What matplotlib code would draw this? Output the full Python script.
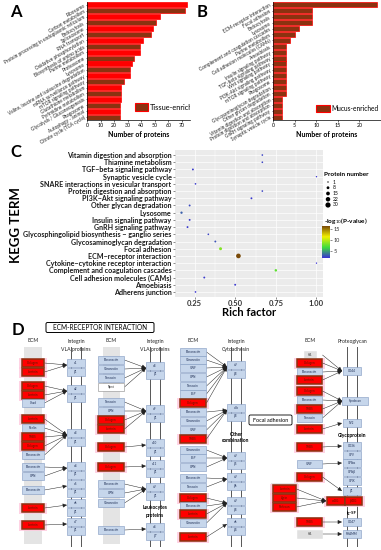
import numpy as np
import matplotlib
matplotlib.use("Agg")
import matplotlib.pyplot as plt
from matplotlib.patches import Rectangle, FancyBboxPatch
from matplotlib.colors import LinearSegmentedColormap, Normalize
from matplotlib.cm import ScalarMappable

plt.rcParams['font.family'] = ['Lato', 'DejaVu Sans']

# ---------------- data ----------------
# A: tissue-enriched KEGG pathways
a_terms = ["Ribosome", "Carbon metabolism", "Protein processing in endoplasmic reticulum",
           "Endocytosis", "Spliceosome", "RNA transport", "Oxidative phosphorylation",
           "Biosynthesis of amino acids", "Purine metabolism", "Proteasome", "Lysosome",
           "Valine, leucine and isoleucine degradation", "mRNA surveillance pathway",
           "mTOR signaling pathway", "Glutathione metabolism", "Pyrimidine metabolism",
           "Glycolysis / Gluconeogenesis", "Phagosome", "Autophagy - animal",
           "Citrate cycle (TCA cycle)"]
a_counts = [74, 72, 54, 51, 49, 47, 41, 39, 39, 35, 33, 32, 32, 27, 25, 25, 25, 24, 24, 24]

# B: mucus-enriched KEGG pathways
b_terms = ["ECM-receptor interaction", "Focal adhesion", "Endocytosis", "Lysosome",
           "Complement and coagulation cascades", "Purine metabolism",
           "Cell adhesion molecules (CAMs)", "Amoebiasis", "Insulin signaling pathway",
           "TGF-beta signaling pathway", "Wnt signaling pathway", "PI3K-Akt signaling pathway",
           "mTOR signaling pathway", "Phagosome", "Glycosaminoglycan degradation",
           "Other glycan degradation", "Vitamin digestion and absorption",
           "Protein digestion and absorption", "GnRH signaling pathway", "Synaptic vesicle cycle"]
b_counts = [24, 9, 9, 9, 6, 5, 4, 3, 3, 3, 3, 3, 3, 3, 3, 3, 2, 2, 2, 2]

# C: KEGG enrichment bubble plot
c_terms = ["Vitamin digestion and absorption", "Thiamine metabolism", "TGF\u2212beta signaling pathway",
           "Synaptic vesicle cycle", "SNARE interactions in vesicular transport",
           "Protein digestion and absorption", "PI3K\u2212Akt signaling pathway",
           "Other glycan degradation", "Lysosome", "Insulin signaling pathway",
           "GnRH signaling pathway", "Glycosphingolipid biosynthesis \u2212 ganglio series",
           "Glycosaminoglycan degradation", "Focal adhesion", "ECM\u2212receptor interaction",
           "Cytokine\u2212cytokine receptor interaction", "Complement and coagulation cascades",
           "Cell adhesion molecules (CAMs)", "Amoebiasis", "Adherens junction"]
c_rich = [0.667, 0.667, 0.24, 1.0, 0.256, 0.667, 0.60, 0.22, 0.17, 0.22,
          0.207, 0.335, 0.378, 0.41, 0.52, 1.0, 0.75, 0.31, 0.50, 0.256]
c_count = [2, 2, 3, 1, 2, 2, 3, 3, 5, 3, 3, 2, 3, 9, 24, 1, 6, 3, 3, 2]
c_logp = [2.2, 2.2, 2.0, 1.8, 2.0, 2.2, 1.9, 2.4, 3.0, 2.0, 2.0, 2.2, 2.6, 8.5, 16.5, 1.6, 7.5, 2.0, 1.9, 1.8]
size_breaks = [1, 8, 15, 22, 30]
logp_ticks = [5, 10, 15]

# D: ECM-receptor interaction diagram
ecm1_names = ["Collagen", "Laminin", "Collagen", "Laminin", "Chad", "Laminin", "Reelin", "THBS",
              "Collagen", "Fibronectin", "Fibronectin", "OPN", "Fibronectin", "Laminin", "Laminin"]
ecm1_kind = [1, 1, 1, 1, 0, 1, 0, 1, 1, 0, 0, 0, 0, 1, 1]
ecm1_to = [0, 0, 1, 1, 1, 2, 2, 2, 2, 2, 3, 3, 4, 5, 6]
int1_a = ["\u03b11", "\u03b12", "\u03b13", "\u03b14", "\u03b15", "\u03b16", "\u03b17"]
int1_b = ["\u03b21"] * 7

ecm2_names = ["Fibronectin", "Vitronectin", "Tenascin", "Npnt", "Tenascin", "OPN", "Collagen",
              "Laminin", "Collagen", "Collagen", "Fibronectin", "OPN", "Vitronectin", "Fibronectin"]
ecm2_kind = [0, 0, 0, 2, 0, 0, 1, 1, 1, 1, 0, 0, 0, 0]
ecm2_to = [0, 0, 0, 0, 1, 1, 1, 1, 2, 3, 4, 4, 4, 5]
int2_a = ["\u03b18", "\u03b19", "\u03b110", "\u03b111", "\u03b1V", "\u03b14"]
int2_b = ["\u03b21"] * 5 + ["\u03b27"]

ecm3_names = ["Fibronectin", "Vitronectin", "VWF", "OPN", "Tenascin", "BSP", "Collagen",
              "Fibronectin", "Vitronectin", "VWF", "THBS", "Vitronectin", "BSP", "OPN",
              "Fibronectin", "Tenascin", "Collagen", "Fibronectin", "Laminin", "Vitronectin", "Laminin"]
ecm3_kind = [0, 0, 0, 0, 0, 0, 1, 0, 0, 0, 1, 0, 0, 0, 0, 0, 1, 0, 1, 0, 1]
ecm3_to = [0, 0, 0, 0, 0, 0, 0, 1, 1, 1, 1, 2, 2, 2, 3, 3, 4, 4, 4, 4, 5]
int3_a = ["\u03b1V", "\u03b1IIb", "\u03b1V", "\u03b1V", "\u03b1V", "\u03b16"]
int3_b = ["\u03b23", "\u03b23", "\u03b25", "\u03b26", "\u03b28", "\u03b24"]

ecm4_names = ["HA", "Collagen", "Fibronectin", "Laminin", "Collagen", "Fibronectin", "THBS",
              "Tenascin", "Laminin", "THBS", "VWF", "Collagen", "THBS", "HA"]
ecm4_kind = [3, 1, 0, 1, 1, 0, 1, 0, 1, 1, 0, 1, 1, 3]
ecm4_to = [0, 0, 0, 0, 1, 1, 1, 1, 2, 3, 5, 8, 9, 10]
rec4_names = ["CD44", "Syndecan", "SV2", "CD36", "GPV", "GPIb\u03b1", "GPIb\u03b2", "GPIX",
              "\u03b21", "CD47", "RHAMM"]
dg_ligands = ["Laminin", "Agrin", "Perlecan"]
dg_names = ["\u03b1-DG", "\u03b2-DG"]

# layout of the diagram (pixel rows)
ecm1_y = [363, 372, 386, 395, 403, 419, 428, 437, 446, 455, 467, 476, 490, 508, 525]
int1_y = [363, 389, 433, 466, 484, 503, 522]
ecm2_y = [360, 369, 378, 387, 402, 411, 420, 429, 447, 467, 484, 493, 503, 530]
int2_y = [366, 409, 443, 464, 487, 527]
ecm3_y = [352, 360, 368, 377, 386, 394, 403, 412, 421, 430, 439, 450, 458, 467, 478, 487,
          498, 506, 514, 523, 537]
int3_y = [365, 408, 456, 477, 501, 522]
ecm4_y = [355, 363, 372, 380, 391, 400, 409, 418, 429, 447, 464, 477, 522, 534]
rec4_y = [371, 401, 423, 446, 455, 463, 472, 481, 491, 522, 534]
dg_lig_y = [489, 498, 507]

RED, BROWN = '#FF0000', '#8B3210'
W, H = 381, 550
fig = plt.figure(figsize=(W / 100, H / 100), dpi=100)


def px_axes(x0, y0, x1, y1):
    return fig.add_axes([x0 / W, 1 - y1 / H, (x1 - x0) / W, (y1 - y0) / H])


def bar_panel(ax, terms, counts, colors, xmax, xticks, legend_text, leg_x, leg_y, leg_fs):
    y = np.arange(len(terms))
    ax.barh(y, counts, height=0.85, color=colors, edgecolor=RED, linewidth=0.5)
    ax.set_ylim(len(terms) - 0.5, -0.5)
    ax.set_xlim(0, xmax)
    ax.set_yticks(y)
    ax.set_yticklabels(terms, rotation=30, ha='right', rotation_mode='anchor',
                       fontsize=3.4, color='#222222')
    ax.set_xticks(xticks)
    ax.tick_params(axis='x', labelsize=3.8, length=1.5, width=0.4, pad=1)
    ax.tick_params(axis='y', length=1, width=0.4, pad=1)
    for s in ['top', 'right']:
        ax.spines[s].set_visible(False)
    for s in ['left', 'bottom']:
        ax.spines[s].set_linewidth(0.5)
    ax.set_xlabel('Number of proteins', fontsize=5, fontweight='bold', labelpad=2)
    ax.add_patch(Rectangle((leg_x, leg_y - 0.03), 0.13, 0.06, transform=ax.transAxes,
                           facecolor=BROWN, edgecolor=RED, linewidth=0.8, clip_on=True))
    ax.text(leg_x + 0.145, leg_y, legend_text, transform=ax.transAxes, fontsize=leg_fs,
            va='center', ha='left', clip_on=True)


# ---- A ----
axA = px_axes(87, 2, 190, 120)
bar_panel(axA, a_terms, a_counts, [RED if i % 2 == 0 else BROWN for i in range(len(a_terms))],
          76, range(0, 71, 10), 'Tissue-enriched', 0.465, 0.11, 5.3)
fig.text(10 / W, 1 - 12 / H, 'A', fontsize=12, fontweight='bold', va='center')

# ---- B ----
axB = px_axes(273, 2, 381, 120)
bar_panel(axB, b_terms, b_counts, [BROWN] * len(b_terms), 25, [0, 5, 10, 15, 20],
          'Mucus-enriched', 0.40, 0.095, 4.8)
fig.text(197 / W, 1 - 12 / H, 'B', fontsize=12, fontweight='bold', va='center')

# ---- C ----
cmap = LinearSegmentedColormap.from_list('kegg', ['#3a2fd6', '#3ddc3d', '#f2f000', '#7a4a08'])
norm = Normalize(vmin=1.6, vmax=16.5)


def bubble(n):
    return 1.0 + (np.asarray(n, float) - 1) * 13.0 / 29.0


axC = px_axes(175, 150, 323, 297)
axC.set_facecolor('#EBEBEB')
yc = np.arange(len(c_terms))
axC.scatter(c_rich, yc, s=bubble(c_count), c=c_logp, cmap=cmap, norm=norm,
            edgecolors='none', zorder=3)
axC.set_xlim(0.13, 1.04)
axC.set_ylim(len(c_terms) - 0.3, -0.7)
axC.set_yticks(yc)
axC.set_yticklabels(c_terms, fontsize=5.1, fontweight='bold', color='#1a1a1a')
axC.set_xticks([0.25, 0.5, 0.75, 1.0])
axC.set_xticklabels(['0.25', '0.50', '0.75', '1.00'], fontsize=5.5, fontweight='bold',
                    color='#333333')
axC.set_xticks([0.375, 0.625, 0.875], minor=True)
axC.grid(which='major', color='white', linewidth=0.5)
axC.grid(which='minor', axis='x', color='white', linewidth=0.3)
axC.set_axisbelow(True)
axC.tick_params(which='major', length=1.5, width=0.4, pad=1, color='#333333')
axC.tick_params(which='minor', length=0)
for s in axC.spines.values():
    s.set_visible(False)
axC.set_xlabel('Rich factor', fontsize=8, fontweight='bold', labelpad=0)
fig.text(16 / W, 1 - 225 / H, 'KEGG TERM', fontsize=9.5, fontweight='bold',
         rotation=90, va='center', ha='center')
fig.text(10 / W, 1 - 152 / H, 'C', fontsize=12, fontweight='bold', va='center')

# size legend
axL = px_axes(322, 170, 381, 212)
axL.set_xlim(322, 381)
axL.set_ylim(212, 170)
axL.axis('off')
axL.text(324, 175, 'Protein number', fontsize=4.6, fontweight='bold', va='center')
leg_rows = np.linspace(182, 205, len(size_breaks))
axL.scatter([328] * len(size_breaks), leg_rows, s=bubble(size_breaks), color='black',
            edgecolors='none')
for yy, b in zip(leg_rows, size_breaks):
    axL.text(333, yy, str(b), fontsize=3.6, va='center')

fig.text(324 / W, 1 - 221 / H, '-log$_{10}$(P-value)', fontsize=4.6, fontweight='bold',
         va='center')
cax = px_axes(322, 226, 330, 258)
cb = fig.colorbar(ScalarMappable(norm=norm, cmap=cmap), cax=cax, ticks=logp_ticks)
cb.outline.set_visible(False)
cax.tick_params(labelsize=4, length=1.5, width=0.4, pad=1, colors='#333333')

# ---- D ----
axD = px_axes(0, 318, W, H)
axD.set_xlim(0, W)
axD.set_ylim(H, 318)
axD.axis('off')
fig.text(12 / W, 1 - 330 / H, 'D', fontsize=12, fontweight='bold', va='center')
axD.add_patch(FancyBboxPatch((46, 322.5), 108, 10, boxstyle='round,pad=0,rounding_size=1.5',
                             facecolor='white', edgecolor='black', linewidth=0.7))
axD.text(100, 327.8, 'ECM-RECEPTOR INTERACTION', fontsize=4.7, ha='center', va='center')

BLUE_F, BLUE_E = '#C6D6EB', '#8099C0'
BH = 8


def box(x0, w, yc, label, kind=0, fs=2.2):
    if kind == 1:
        axD.add_patch(Rectangle((x0 - 3, yc - BH / 2 - 1.5), w + 6, BH + 3, facecolor='#FFC9DE',
                                edgecolor='none', alpha=0.8, zorder=1))
        fc, ec, lw, tc = RED, BROWN, 1.1, '#5a1a00'
    elif kind == 2:
        fc, ec, lw, tc = 'white', '#888888', 0.4, '#333333'
    elif kind == 3:
        fc, ec, lw, tc = '#E0E0E0', '#E0E0E0', 0.4, '#333333'
    else:
        fc, ec, lw, tc = BLUE_F, BLUE_E, 0.4, '#1f2f55'
    axD.add_patch(Rectangle((x0, yc - BH / 2), w, BH, facecolor=fc, edgecolor=ec,
                            linewidth=lw, zorder=3))
    axD.text(x0 + w / 2, yc, label, fontsize=fs, ha='center', va='center', color=tc, zorder=4)


def arrow(x0, y0, x1, y1):
    axD.annotate('', xy=(x1, y1), xytext=(x0, y0), zorder=2,
                 arrowprops=dict(arrowstyle='-|>,head_length=0.25,head_width=0.12',
                                 lw=0.35, color='#222222', shrinkA=0, shrinkB=0))


def rails(xa, xb, y0, y1):
    for x in (xa, xb):
        axD.plot([x, x], [y0, y1], color='#555555', lw=0.7, zorder=1)


def integrin_column(ecm_names, ecm_kind, ecm_y, ecm_to, a_names, b_names, int_y,
                    ex0, ew, ix0, iw, rail_top, rail_bot, strip=None):
    if strip is not None:
        axD.add_patch(Rectangle((strip[0], rail_top), strip[1] - strip[0], rail_bot - rail_top - 2,
                                facecolor='#E4E4E4', edgecolor='none', zorder=0))
    rails(ix0 + iw * 0.2, ix0 + iw * 0.8, rail_top, rail_bot)
    for n, k, y in zip(ecm_names, ecm_kind, ecm_y):
        box(ex0, ew, y, n, k)
    for a, b, y in zip(a_names, b_names, int_y):
        box(ix0, iw, y, a)
        box(ix0, iw, y + 8.5, b)
    for t, y in zip(ecm_to, ecm_y):
        arrow(ex0 + ew + 0.5, y, ix0, int_y[t] + 2)


integrin_column(ecm1_names, ecm1_kind, ecm1_y, ecm1_to, int1_a, int1_b, int1_y,
                22, 22, 67, 18, 347, 546, strip=(24, 42))
integrin_column(ecm2_names, ecm2_kind, ecm2_y, ecm2_to, int2_a, int2_b, int2_y,
                98, 26, 146, 18, 347, 546, strip=(103, 120))
integrin_column(ecm3_names, ecm3_kind, ecm3_y, ecm3_to, int3_a, int3_b, int3_y,
                180, 26, 227, 18, 347, 546)

# proteoglycan / glycoprotein column
rails(347, 357, 347, 546)
for n, k, y in zip(ecm4_names, ecm4_kind, ecm4_y):
    w = 12 if k == 3 and y < 360 else 25
    box(309.5 - w / 2, w, y, n, k)
for i, (n, y) in enumerate(zip(rec4_names, rec4_y)):
    w = 26 if n == 'Syndecan' else 18
    box(343 if w == 18 else 342, w, y, n)
for t, y in zip(ecm4_to, ecm4_y):
    arrow(322.5, y, 342, rec4_y[t])
axD.add_patch(Rectangle((271, 483), 27, 29, facecolor='#E4E4E4', edgecolor='none', zorder=0))
for n, y in zip(dg_ligands, dg_lig_y):
    box(273, 23, y, n, 1)
for j, n in enumerate(dg_names):
    box(327 + j * 17.5, 17.5, 501, n, 1)
for y in dg_lig_y:
    arrow(296.5, y, 326, 501)

# headers and labels
hdr = dict(fontsize=3.7, ha='center', va='center', color='#222222')
for x, t in [(33, 'ECM'), (76, 'Integrin'), (111, 'ECM'), (155, 'Integrin'),
             (193, 'ECM'), (236, 'Integrin'), (310, 'ECM'), (352, 'Proteoglycan')]:
    axD.text(x, 341, t, **hdr)
for x, t in [(76, 'VLA proteins'), (155, 'VLA proteins'), (236, 'Cytoadhesin')]:
    axD.text(x, 349, t, **hdr)
axD.text(155, 508, 'Leukocytes', fontsize=3.6, ha='center', va='center', fontweight='bold')
axD.text(155, 515, 'proteins', fontsize=3.6, ha='center', va='center', fontweight='bold')
axD.text(236, 434, 'Other', fontsize=3.6, ha='center', va='center', fontweight='bold')
axD.text(236, 441, 'combination', fontsize=3.6, ha='center', va='center', fontweight='bold')
axD.text(352, 435, 'Glycoprotein', fontsize=3.6, ha='center', va='center', fontweight='bold')
axD.text(352, 513, 'Ig-SF', fontsize=3.2, ha='center', va='center', fontweight='bold')
axD.add_patch(FancyBboxPatch((249, 415), 43, 10, boxstyle='round,pad=0,rounding_size=1.5',
                             facecolor='white', edgecolor='black', linewidth=0.6))
axD.text(270.5, 420, 'Focal adhesion', fontsize=3.9, ha='center', va='center')

fig.savefig('out.png', dpi=100)
